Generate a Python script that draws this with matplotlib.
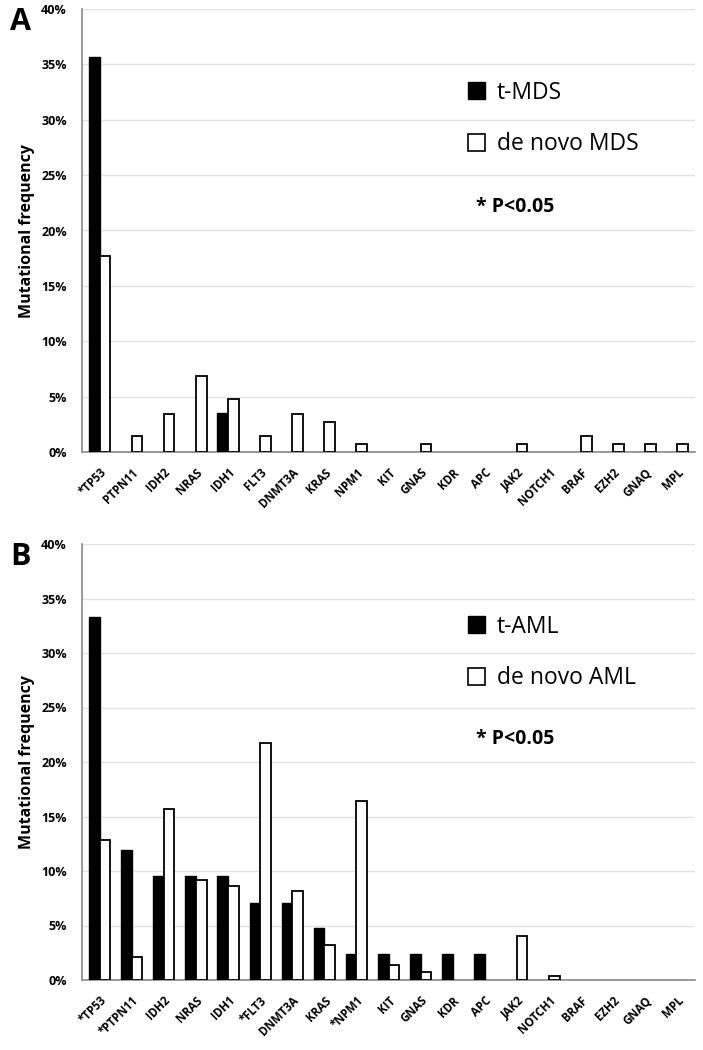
import matplotlib
matplotlib.use("Agg")
import matplotlib.pyplot as plt
import numpy as np
from matplotlib.patches import Patch

plt.rcParams["font.family"] = ["Open Sans", "DejaVu Sans"]

# ---------------------------------------------------------------------------
# Dados (frequencia mutacional em %)
# ---------------------------------------------------------------------------
labels_mds = ["*TP53", "PTPN11", "IDH2", "NRAS", "IDH1", "FLT3", "DNMT3A",
              "KRAS", "NPM1", "KIT", "GNAS", "KDR", "APC", "JAK2", "NOTCH1",
              "BRAF", "EZH2", "GNAQ", "MPL"]
t_mds = [35.7, 0, 0, 0, 3.5, 0, 0, 0, 0, 0, 0, 0, 0, 0, 0, 0, 0, 0, 0]
denovo_mds = [17.7, 1.4, 3.4, 6.9, 4.8, 1.4, 3.4, 2.7, 0.7, 0, 0.7, 0, 0,
              0.7, 0, 1.4, 0.7, 0.7, 0.7]

labels_aml = ["*TP53", "*PTPN11", "IDH2", "NRAS", "IDH1", "*FLT3", "DNMT3A",
              "KRAS", "*NPM1", "KIT", "GNAS", "KDR", "APC", "JAK2", "NOTCH1",
              "BRAF", "EZH2", "GNAQ", "MPL"]
t_aml = [33.3, 11.9, 9.5, 9.5, 9.5, 7.1, 7.1, 4.8, 2.4, 2.4, 2.4, 2.4, 2.4,
         0, 0, 0, 0, 0, 0]
denovo_aml = [12.8, 2.1, 15.7, 9.2, 8.6, 21.7, 8.2, 3.2, 16.4, 1.4, 0.7, 0, 0,
              4.0, 0.4, 0, 0, 0, 0]


def painel(ax, labels, serie_t, serie_dn, nome_t, nome_dn, letra):
    x = np.arange(len(labels))
    w = 0.33
    # barras de altura zero sem contorno
    lw_t = [1.0 if v > 0 else 0 for v in serie_t]
    lw_dn = [1.3 if v > 0 else 0 for v in serie_dn]
    ax.bar(x - w / 2, serie_t, width=w, color="black", edgecolor="black",
           linewidth=lw_t, zorder=3)
    ax.bar(x + w / 2, serie_dn, width=w, color="white", edgecolor="black",
           linewidth=lw_dn, zorder=3)

    ax.set_xlim(-0.55, len(labels) - 0.45)
    ax.set_ylim(0, 40)
    ax.set_yticks(range(0, 41, 5))
    ax.set_yticklabels([f"{v}%" for v in range(0, 41, 5)],
                       fontsize=9, fontweight="bold")
    ax.yaxis.grid(True, color="#e2e2e2", linewidth=1.0, zorder=0)
    ax.set_axisbelow(True)
    ax.tick_params(axis="y", length=0, pad=11)
    ax.tick_params(axis="x", length=0, pad=10)
    ax.set_xticks(x)
    ax.set_xticklabels(labels, rotation=45, ha="right",
                       rotation_mode="anchor", fontsize=8.3,
                       fontweight="bold")
    for s in ("top", "right"):
        ax.spines[s].set_visible(False)
    for s in ("left", "bottom"):
        ax.spines[s].set_color("#888888")
        ax.spines[s].set_linewidth(1.2)
    ax.set_ylabel("Mutational frequency", fontsize=11.5, fontweight="bold",
                  labelpad=4)

    handles = [Patch(facecolor="black", edgecolor="black"),
               Patch(facecolor="white", edgecolor="black", linewidth=1.2)]
    ax.legend(handles, [nome_t, nome_dn], loc="upper left",
              bbox_to_anchor=(0.63, 0.838), frameon=False, fontsize=16.5,
              handlelength=0.75, handleheight=0.75, handletextpad=0.5,
              labelspacing=1.2, borderpad=0, borderaxespad=0)
    ax.text(0.643, 0.553, "* P<0.05", transform=ax.transAxes,
            fontsize=14, fontweight="bold", va="center")
    ax.text(-0.1, 0.97, letra, transform=ax.transAxes, fontsize=22,
            fontweight="bold", va="center", ha="center")


fig = plt.figure(figsize=(7.03, 10.5), dpi=100)
ax1 = fig.add_axes([82 / 703, 1 - 452 / 1050, 613 / 703, 443 / 1050])
ax2 = fig.add_axes([82 / 703, 1 - 980 / 1050, 613 / 703, 436 / 1050])

painel(ax1, labels_mds, t_mds, denovo_mds, "t-MDS", "de novo MDS", "A")
painel(ax2, labels_aml, t_aml, denovo_aml, "t-AML", "de novo AML", "B")

fig.savefig("out.png", dpi=100)
